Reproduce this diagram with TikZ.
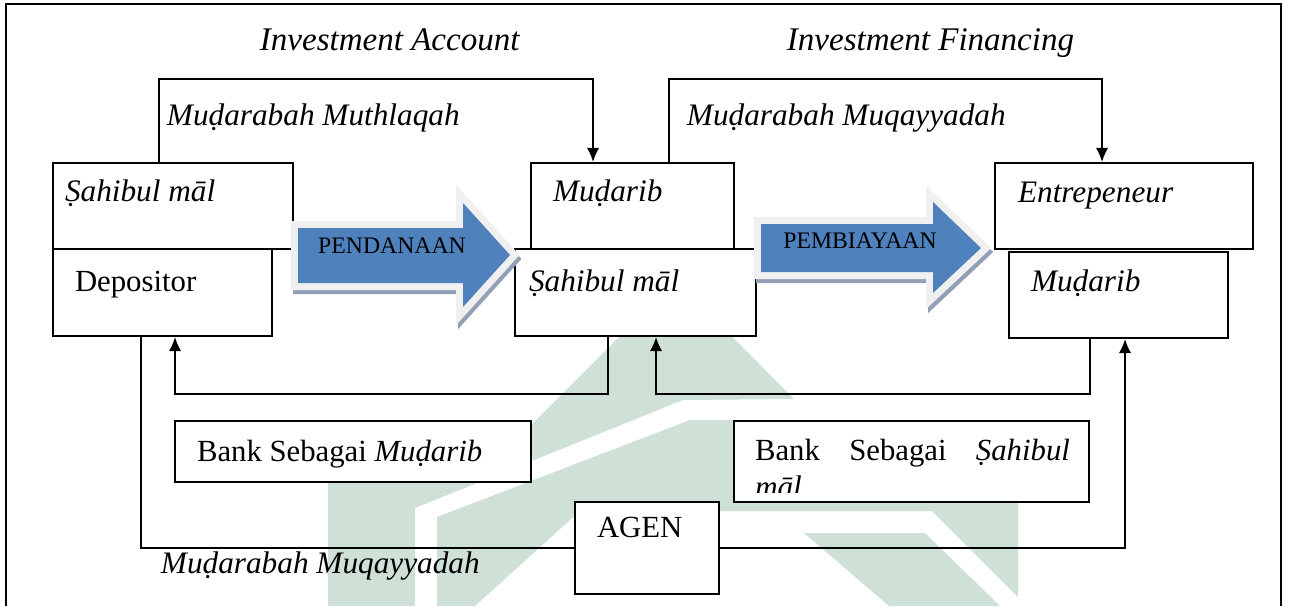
\documentclass[tikz,border=0pt]{standalone}
\usepackage{fontspec}
\setmainfont{Liberation Serif}
\usetikzlibrary{positioning}
\usetikzlibrary{calc}
\usetikzlibrary{arrows.meta}
\definecolor{wmgreen}{RGB}{207,224,215}
\definecolor{arrblue}{RGB}{79,129,189}
\definecolor{arrglow}{RGB}{240,240,240}
\definecolor{arrshade}{RGB}{146,160,182}
\tikzset{every picture/.style={line width=1.1pt}}
\tikzset{
  box/.style 2 args={draw,fill=white,inner sep=0pt,minimum width=#1*0.02cm,minimum height=#2*0.02cm},
  lbl/.style={inner sep=0pt,anchor=base west,font=\fontsize{17.5}{21}\selectfont},
  ilbl/.style={lbl,font=\fontsize{17.8}{21}\selectfont\itshape},
  head/.style={lbl,font=\fontsize{18.8}{22}\selectfont\itshape},
  flow/.style={inner sep=0pt,anchor=base,font=\fontsize{13.5}{16}\selectfont},
  conn/.style={-{Latex[length=8pt,width=7pt]}},
  wmark/.style={fill=wmgreen},
  fatshade/.style={draw=arrshade,fill=arrshade,line width=0.28cm,line join=miter},
  fatglow/.style={draw=arrglow,line width=0.28cm,line join=miter},
  fatbody/.style={fill=arrblue}
}

\begin{document}
\begin{tikzpicture}[x=0.02cm,y=-0.02cm]
\useasboundingbox (0,0) rectangle (1295,606);

% watermark in the back
\fill[wmark] (328,606) -- (328,445) -- (511,445) -- (676,280) -- (794,399) -- (683,400) -- (415,508) -- (415,606) -- cycle;
\fill[wmark] (437,606) -- (437,517) -- (690,420) -- (1018,420) -- (1018,597) -- (932,511) -- (580,511) -- (475,606) -- cycle;
\fill[wmark] (804,533) -- (925,533) -- (1000,606) -- (889,606) -- cycle;

% frame
\draw (6,606) -- (6,4) -- (1281,4) -- (1281,606);

% boxes
\node[box={240}{86}] (smA) at (173,206) {};
\node[box={219}{87}] (dep) at (162.5,292.5) {};
\node[box={203}{86}] (mdB) at (632.5,206) {};
\node[box={241}{87}] (smB) at (635.5,292.5) {};
\node[box={258}{86}] (ent) at (1124,206) {};
\node[box={219}{86}] (mdC) at (1118.5,295) {};
\node[box={356}{61}] (bkM) at (353,451.5) {};
\node[box={355}{81}] (bkS) at (911.5,461.5) {};
\node[box={144}{92}] (agen) at (647,548) {};

% connectors
\draw[conn] ($(smA.north west)+(107,0)$) -- ++(0,-83) -| ($(mdB.north west)+(63,0)$);
\draw[conn] ($(mdB.north west)+(139,0)$) -- ++(0,-83) -| ($(ent.north west)+(108,0)$);
\draw[conn] ($(smB.south west)+(94,0)$) -- ++(0,57) -| ($(dep.south west)+(123,0)$);
\draw[conn] ($(mdC.south west)+(82,0)$) -- ++(0,55) -| ($(smB.south west)+(142,0)$);
\draw ($(dep.south west)+(89,0)$) |- (agen.west);
\draw[conn] (agen.east) -| ($(mdC.south west)+(117,0)$);

% big arrows
\draw[fatshade,shift={(2,4)}] (298,228) -- (463,228) -- (463,203) -- (510,255) -- (463,307) -- (463,283) -- (298,283) -- cycle;
\draw[fatglow] (298,228) -- (463,228) -- (463,203) -- (510,255) -- (463,307) -- (463,283) -- (298,283) -- cycle;
\fill[fatbody] (298,228) -- (463,228) -- (463,203) -- (510,255) -- (463,307) -- (463,283) -- (298,283) -- cycle;
\node[flow] (pend) at (392,253) {PENDANAAN};

\draw[fatshade,shift={(2,4)}] (761,224) -- (933,224) -- (933,202) -- (981,248) -- (933,293) -- (933,272) -- (761,272) -- cycle;
\draw[fatglow] (761,224) -- (933,224) -- (933,202) -- (981,248) -- (933,293) -- (933,272) -- (761,272) -- cycle;
\fill[fatbody] (761,224) -- (933,224) -- (933,202) -- (981,248) -- (933,293) -- (933,272) -- (761,272) -- cycle;
\node[flow] (biaya) at (860,248) {PEMBIAYAAN};

% texts
\node[head] (invA) at (259,50) {Investment Account};
\node[head] (invF) at (786,50) {Investment Financing};
\node[ilbl] (mMut) at (166,125) {Muḍarabah Muthlaqah};
\node[ilbl] (mMuqT) at (686,125) {Muḍarabah Muqayyadah};
\node[ilbl] (mMuqB) at (160,573) {Muḍarabah Muqayyadah};

\node[ilbl] (tSmA) at ($(smA.north west)+(12,39)$) {Ṣahibul māl};
\node[lbl] (tDep) at ($(dep.north west)+(22,43)$) {Depositor};
\node[ilbl] (tMdB) at ($(mdB.north west)+(22,39)$) {Muḍarib};
\node[ilbl] (tSmB) at ($(smB.north west)+(14,43)$) {Ṣahibul māl};
\node[ilbl] (tEnt) at ($(ent.north west)+(23,40)$) {Entrepeneur};
\node[ilbl] (tMdC) at ($(mdC.north west)+(22,40)$) {Muḍarib};
\node[lbl] (tBkM) at ($(bkM.north west)+(22,41)$) {Bank Sebagai \textit{Muḍarib}};
\node[lbl] (tBkS) at ($(bkS.north west)+(21,40)$) {\makebox[6.3cm][s]{Bank Sebagai \textit{Ṣahibul}}};
\begin{scope}
\clip (bkS.north west) rectangle ($(bkS.south east)+(0,-10)$);
\node[ilbl] (tBkS2) at ($(bkS.north west)+(21,77)$) {māl};
\end{scope}
\node[lbl] (tAgen) at ($(agen.north west)+(22,36)$) {AGEN};
\end{tikzpicture}
\end{document}
